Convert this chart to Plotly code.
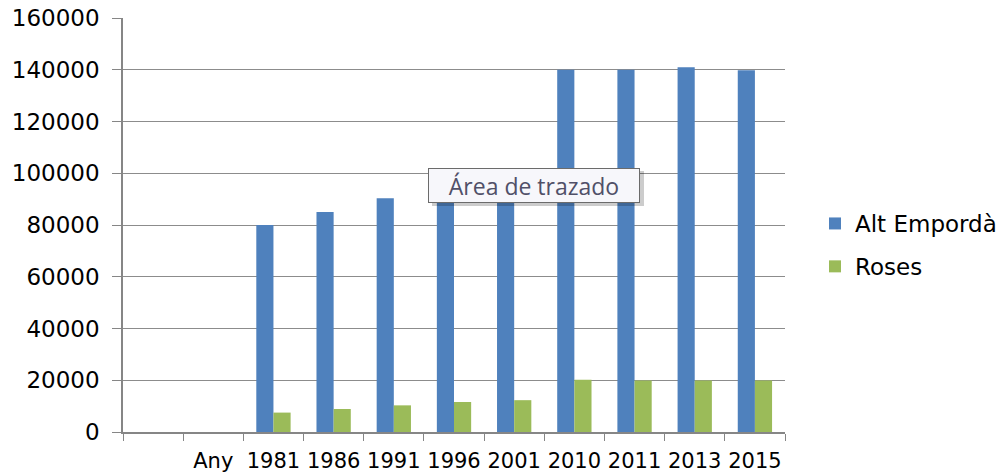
import plotly.graph_objects as go

categories = [" ", "Any", "1981", "1986", "1991", "1996", "2001", "2010", "2011", "2013", "2015"]
alt_emporda = [None, None, 80000, 85000, 90300, 94000, 98000, 140000, 140000, 141000, 139800]
roses = [None, None, 7500, 8900, 10300, 11600, 12300, 20200, 19900, 19900, 19900]
y_ticks = [0, 20000, 40000, 60000, 80000, 100000, 120000, 140000, 160000]

# body margin is removed by the post script, so the figure sits at (0, 0)
OFF = 0
PL, PR, PT, PB = 123 - OFF, 785 - OFF, 18 - OFF, 432 - OFF   # plot area in figure px
W, H = 1004, 472
PW, PH = PR - PL, PB - PT

def px(x):
    return (x - OFF - PL) / PW

def py(y):
    return (PB - (y - OFF)) / PH

fig = go.Figure()
fig.add_trace(go.Bar(name="Alt Empordà", x=categories, y=alt_emporda, legendgroup="a",
                     marker=dict(color="#4F81BD", line=dict(width=0))))
fig.add_trace(go.Bar(name="Roses", x=categories, y=roses, legendgroup="b",
                     marker=dict(color="#9BBB59", line=dict(width=0))))

fig.update_layout(
    width=W, height=H,
    margin=dict(l=PL, r=W - PR, t=PT, b=H - PB, autoexpand=False),
    paper_bgcolor="white", plot_bgcolor="white",
    barmode="group", bargap=0.43, bargroupgap=0,
    font=dict(family="DejaVu Sans", color="#000000"),
    showlegend=True,
    legend=dict(x=px(815), y=py(245), xanchor="left", yanchor="middle",
                font=dict(size=23, family="DejaVu Sans", color="#000000"),
                itemwidth=30, tracegroupgap=10, bgcolor="rgba(0,0,0,0)"),
    xaxis=dict(type="category", categoryorder="array", categoryarray=categories,
               tickson="boundaries", ticks="outside", ticklen=7, tickcolor="#868686",
               showline=True, linecolor="#868686", linewidth=1.5,
               showgrid=False, ticklabelstandoff=9, automargin=False,
               ticklabeloverflow="allow", tickangle=0,
               tickfont=dict(size=21, family="DejaVu Sans", color="#000000")),
    yaxis=dict(range=[0, 160000], tickvals=y_ticks, ticktext=[str(v) for v in y_ticks],
               ticks="outside", ticklen=9, tickcolor="#868686",
               showline=True, linecolor="#868686", linewidth=1.5,
               showgrid=True, gridcolor="#8c8c8c", gridwidth=1, zeroline=False,
               ticklabelstandoff=8, automargin=False, ticklabeloverflow="allow",
               tickfont=dict(size=23, family="DejaVu Sans", color="#000000")),
)

# tooltip-like label
fig.add_shape(type="rect", xref="paper", yref="paper",
              x0=px(432), x1=px(644), y0=py(206), y1=py(171),
              fillcolor="rgba(0,0,0,0.2)", line=dict(width=0), layer="above")
fig.add_annotation(xref="paper", yref="paper", x=px(534), y=py(185),
                   text="Área de trazado", showarrow=False,
                   width=206, height=29,
                   font=dict(size=23, family="Open Sans", color="#505068"),
                   bgcolor="#f7f7fb", bordercolor="#6b6b6b", borderwidth=1, borderpad=2)

fig.write_html("out.html",
               config={"displayModeBar": False},
               post_script="document.body.style.margin='0';document.body.style.overflow='hidden';")
